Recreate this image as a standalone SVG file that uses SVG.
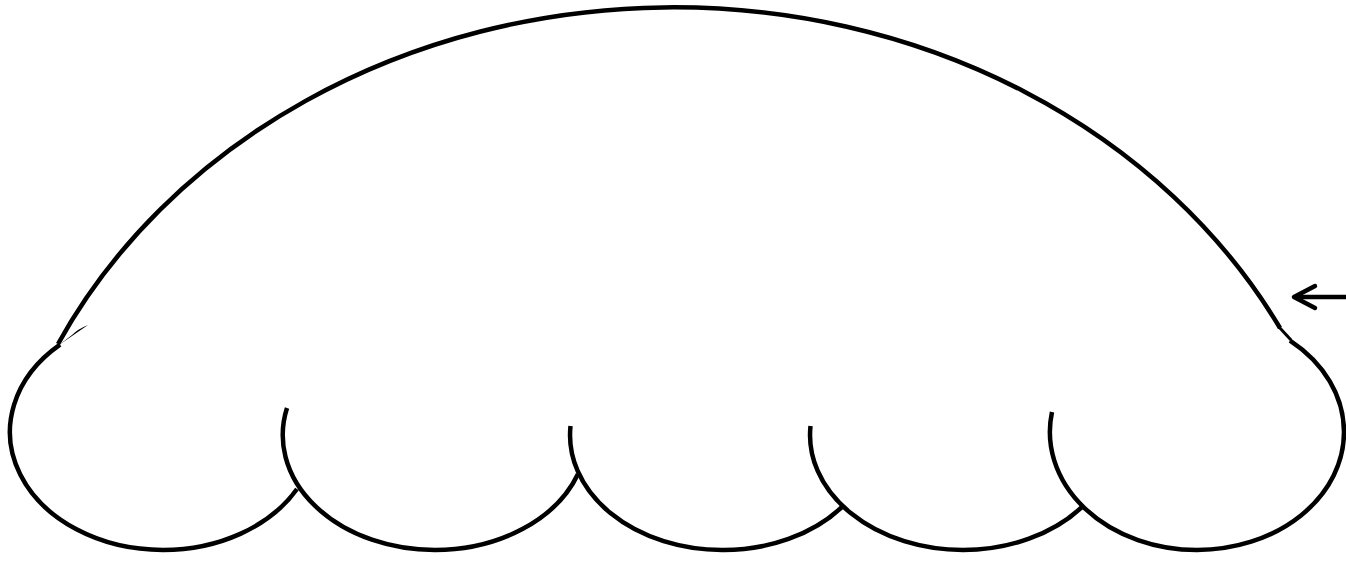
<svg xmlns="http://www.w3.org/2000/svg" width="1346" height="562" viewBox="0 0 1346 562">
  <style>
    .ln { fill: none; stroke: #000; stroke-width: 4.5; }
    .arrow { fill: none; stroke: #000; stroke-width: 4.5; stroke-linecap: round; stroke-linejoin: round; }
  </style>
  <rect width="1346" height="562" fill="#fff"/>
  <g id="cloud">
    <path id="dome" class="ln" d="M 58,344 A 683 594 0 0 1 1280,328"/>
    <path id="left-tail" d="M 59,345 L 88,325 Q 78,329 72,335 Z" fill="#000"/>
    <path id="right-tail" class="ln" style="stroke-width:3" d="M 1279,327 L 1291,340"/>
    <path id="scallop-1" class="ln" d="M 60,344.7 A 153 118 0 0 0 163,550 A 153 118 0 0 0 297,489"/>
    <path id="scallop-2" class="ln" d="M 287,408 A 152 115 0 0 0 435,550 A 152 115 0 0 0 578,474"/>
    <path id="scallop-3" class="ln" d="M 570.5,426 A 152 115 0 0 0 722,550 A 152 115 0 0 0 842,507"/>
    <path id="scallop-4" class="ln" d="M 810.5,426 A 153 115 0 0 0 963,550 A 153 115 0 0 0 1082,507"/>
    <path id="scallop-5" class="ln" d="M 1052,412 A 147 118 0 0 0 1197,550 A 147 118 0 0 0 1344,432 A 147 118 0 0 0 1290,340.6"/>
  </g>
  <g id="connectors">
    <path class="arrow" d="M 1346,297 H 1296"/>
    <path class="arrow" d="M 1315,286 L 1294,297 L 1315,308"/>
  </g>
</svg>
